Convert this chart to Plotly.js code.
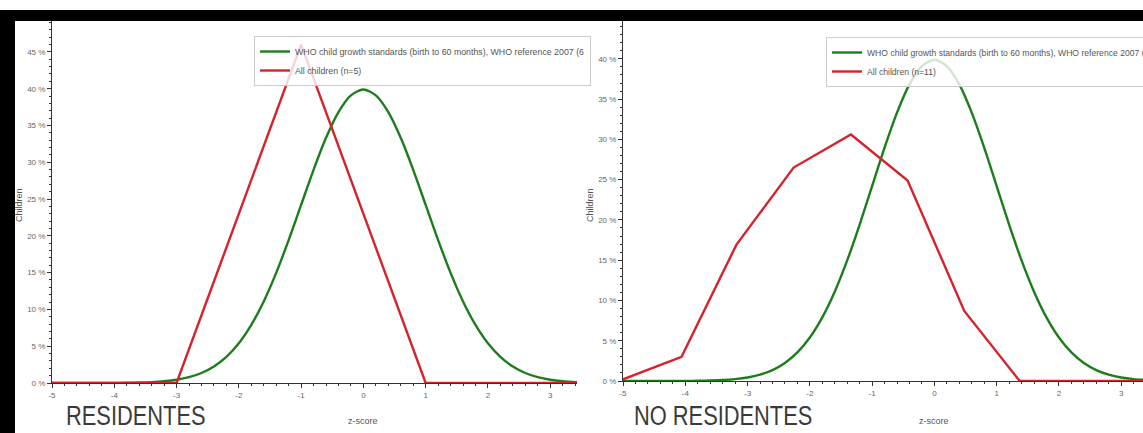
<!DOCTYPE html>
<html>
<head>
<meta charset="utf-8">
<script src="https://cdn.plot.ly/plotly-3.0.1.min.js"></script>
<style>html,body{margin:0;padding:0;background:#fff;overflow:hidden;}#chart{width:1143px;height:433px;overflow:hidden;}</style>
</head>
<body>
<div id="chart"></div>
<script>
// ---- data ----
const zGrid = [-5, -4.8, -4.6, -4.4, -4.2, -4, -3.8, -3.6, -3.4, -3.2, -3, -2.8, -2.6, -2.4, -2.2, -2, -1.8, -1.6, -1.4, -1.2, -1, -0.8, -0.6, -0.4, -0.2, 0, 0.2, 0.4, 0.6, 0.8, 1, 1.2, 1.4, 1.6, 1.8, 2, 2.2, 2.4, 2.6, 2.8, 3, 3.2, 3.45];
const whoPct = [0, 0, 0, 0, 0.01, 0.01, 0.03, 0.06, 0.12, 0.24, 0.44, 0.79, 1.36, 2.24, 3.55, 5.4, 7.9, 11.09, 14.97, 19.42, 24.2, 28.97, 33.32, 36.83, 39.1, 39.89, 39.1, 36.83, 33.32, 28.97, 24.2, 19.42, 14.97, 11.09, 7.9, 5.4, 3.55, 2.24, 1.36, 0.79, 0.44, 0.24, 0.1];

const resZ = [-5, -3, -1, 1, 3.45];
const resPct = [0, 0, 46, 0, 0];

const noResZ = [-5, -4.06, -3.18, -2.26, -1.34, -0.43, 0.48, 1.37, 3.4];
const noResPct = [0.2, 3.0, 16.9, 26.5, 30.6, 24.9, 8.7, 0, 0];

const xTickVals = [-5, -4, -3, -2, -1, 0, 1, 2, 3];
const xTickText = ['-5', '-4', '-3', '-2', '-1', '0', '1', '2', '3'];
const yTickValsL = [0, 5, 10, 15, 20, 25, 30, 35, 40, 45];
const yTickValsR = [0, 5, 10, 15, 20, 25, 30, 35, 40];
const yTickText = ['0 %', '5 %', '10 %', '15 %', '20 %', '25 %', '30 %', '35 %', '40 %', '45 %'];

const whoNameLeft = 'WHO child growth standards (birth to 60 months), WHO reference 2007 (6';
const whoNameRight = 'WHO child growth standards (birth to 60 months), WHO reference 2007 (';
const resName = 'All children (n=5)';
const noResName = 'All children (n=11)';
const panelTitles = ['RESIDENTES', 'NO RESIDENTES'];

// ---- styling ----
const W = 1143, H = 433;
const GREEN = '#1d7d1d', RED = '#d6222c';
const FAM = 'Liberation Sans, Arial, sans-serif';
const smallFont = {family: FAM, size: 8, color: '#666'};
const px = v => v / W;
const py = v => (H - v) / H;

const traces = [
  {x: zGrid, y: whoPct, xaxis: 'x', yaxis: 'y', mode: 'lines', name: whoNameLeft, legend: 'legend',
   line: {color: GREEN, width: 2.4, shape: 'spline', smoothing: 0.8}},
  {x: resZ, y: resPct, xaxis: 'x', yaxis: 'y', mode: 'lines', name: resName, legend: 'legend',
   line: {color: RED, width: 2.4}},
  {x: zGrid, y: whoPct, xaxis: 'x2', yaxis: 'y2', mode: 'lines', name: whoNameRight, legend: 'legend2',
   line: {color: GREEN, width: 2.4, shape: 'spline', smoothing: 0.8}},
  {x: noResZ, y: noResPct, xaxis: 'x2', yaxis: 'y2', mode: 'lines', name: noResName, legend: 'legend2',
   line: {color: RED, width: 2.4}}
];

function xAxis(dom, rng) {
  return {domain: dom, range: rng, showgrid: false, zeroline: false, showline: true, linecolor: '#333', linewidth: 1,
    ticks: 'outside', ticklen: 4, tickcolor: '#333', tickvals: xTickVals, ticktext: xTickText, tickfont: smallFont,
    minor: {dtick: 0.2, tick0: -5, ticks: 'outside', ticklen: 2, tickcolor: '#333', showgrid: false}, fixedrange: true};
}
function yAxis(dom, rng, vals, anchor) {
  return {domain: dom, range: rng, anchor: anchor, showgrid: false, zeroline: false, showline: true, linecolor: '#333', linewidth: 1,
    ticks: 'outside', ticklen: 4, tickcolor: '#333', tickvals: vals, ticktext: yTickText.slice(0, vals.length), tickfont: smallFont,
    minor: {dtick: 1, ticks: 'outside', ticklen: 2, tickcolor: '#333', showgrid: false}, fixedrange: true};
}

const legendStyle = {bgcolor: 'rgba(255,255,255,0.8)', bordercolor: '#ccc', borderwidth: 1, xanchor: 'left', yanchor: 'top',
  itemwidth: 30, tracegroupgap: 0};

const titleFont = {family: FAM, size: 28, color: '#3a3a3a'};
const layout = {
  width: W, height: H, margin: {l: 0, r: 0, t: 0, b: 0, autoexpand: false}, paper_bgcolor: '#fff', plot_bgcolor: '#fff',
  showlegend: true,
  xaxis: xAxis([px(52), px(577)], [-5, 3.43]),
  yaxis: yAxis([py(383), py(21)], [0, 49.2], yTickValsL, 'x'),
  xaxis2: Object.assign(xAxis([px(623), 1], [-5, 3.35]), {anchor: 'y2'}),
  yaxis2: yAxis([py(381), py(21)], [0, 44.7], yTickValsR, 'x2'),
  legend: Object.assign({x: px(254), y: py(36), font: {family: FAM, size: 8.8, color: '#555'}}, legendStyle),
  legend2: Object.assign({x: px(826), y: py(37), font: {family: FAM, size: 8.6, color: '#555'}}, legendStyle),
  shapes: [
    {type: 'rect', xref: 'paper', yref: 'paper', x0: 0, x1: 1, y0: py(21), y1: py(10), fillcolor: '#000', line: {width: 0}, layer: 'above'},
    {type: 'rect', xref: 'paper', yref: 'paper', x0: 0, x1: px(15), y0: 0, y1: py(10), fillcolor: '#000', line: {width: 0}, layer: 'above'}
  ],
  annotations: [
    {text: panelTitles[0], xref: 'paper', yref: 'paper', x: px(64), y: 0, xanchor: 'left', yanchor: 'bottom', showarrow: false, font: titleFont},
    {text: panelTitles[1], xref: 'paper', yref: 'paper', x: px(632), y: 0, xanchor: 'left', yanchor: 'bottom', showarrow: false, font: titleFont},
    {text: 'z-score', xref: 'x', yref: 'paper', x: 0, y: py(421), xanchor: 'center', yanchor: 'middle', showarrow: false, font: {family: FAM, size: 9, color: '#555'}},
    {text: 'z-score', xref: 'x2', yref: 'paper', x: 0, y: py(421), xanchor: 'center', yanchor: 'middle', showarrow: false, font: {family: FAM, size: 9, color: '#555'}},
    {text: 'Children', xref: 'paper', yref: 'paper', x: px(19), y: py(205), xanchor: 'center', yanchor: 'middle', textangle: -90, showarrow: false, font: {family: FAM, size: 9, color: '#555'}},
    {text: 'Children', xref: 'paper', yref: 'paper', x: px(590), y: py(205), xanchor: 'center', yanchor: 'middle', textangle: -90, showarrow: false, font: {family: FAM, size: 9, color: '#555'}}
  ]
};

Plotly.newPlot('chart', traces, layout, {staticPlot: true, displayModeBar: false}).then(gd => {
  // the panel captions in the reference use a tall condensed face: compress horizontally
  gd.querySelectorAll('text.annotation-text').forEach(t => {
    if (!panelTitles.includes(t.textContent)) return;
    const bb = t.getBBox();
    const sx = 0.78;
    t.setAttribute('transform', 'translate(' + bb.x + ',0) scale(' + sx + ',1) translate(' + (-bb.x) + ',0)');
  });
});
</script>
</body>
</html>
